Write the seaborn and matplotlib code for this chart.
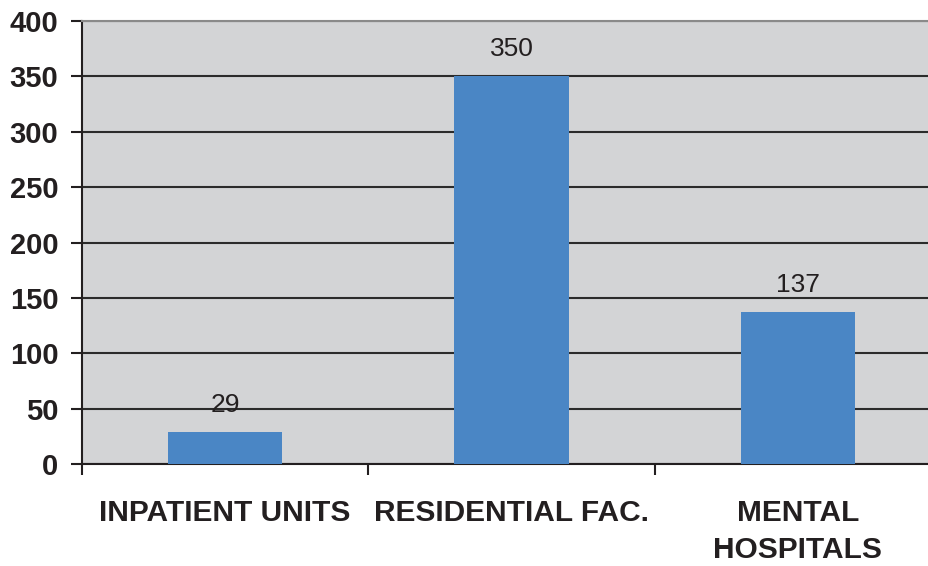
import matplotlib
matplotlib.use("Agg")
import matplotlib.pyplot as plt
import seaborn as sns
import pandas as pd

categories = ["INPATIENT UNITS", "RESIDENTIAL FAC.", "MENTAL\nHOSPITALS"]
values = [29, 350, 137]
yticks = [0, 50, 100, 150, 200, 250, 300, 350, 400]

sns.set_style("white")
plt.rcParams['font.family'] = ['Liberation Sans', 'DejaVu Sans']

df = pd.DataFrame({"cat": categories, "val": values})

fig = plt.figure(figsize=(9.29, 5.66), dpi=100)
ax = fig.add_axes([82/929, 102/566, 859/929, 443/566])
ax.set_facecolor("#d3d4d6")
sns.barplot(data=df, x="cat", y="val", color="#4a86c5", width=0.4,
            saturation=1, linewidth=0, edgecolor="none", ax=ax, zorder=3)

ax.set_ylim(0, 400)
ax.set_xlim(-0.5, 2.5)
ax.set_yticks(yticks)
ax.set_yticklabels([str(t) for t in yticks], fontsize=21, fontweight="bold", color="#231f20")
ax.yaxis.grid(True, color="#2b2b2b", linewidth=1.5, zorder=1)
ax.set_axisbelow(True)
ax.tick_params(axis="y", direction="out", length=8, width=1.5, color="#231f20", pad=9, left=True)

ax.set_xticks([0, 1, 2])
ax.set_xticklabels(categories, fontsize=21.5, fontweight="bold", color="#231f20", linespacing=1.42)
ax.tick_params(axis="x", which="major", length=0, pad=25)
ax.set_xticks([-0.5, 0.5, 1.5, 2.5], minor=True)
ax.tick_params(axis="x", which="minor", direction="out", length=8, width=1.5, color="#231f20", bottom=True)
for lab in ax.get_xticklabels():
    lab.set_verticalalignment("top")

ax.set_xlabel("")
ax.set_ylabel("")

for s in ["left", "bottom"]:
    ax.spines[s].set_color("#231f20")
    ax.spines[s].set_linewidth(1.5)
ax.spines["top"].set_color("#8a8a8a")
ax.spines["top"].set_linewidth(1.5)
ax.spines["right"].set_visible(False)

for i, v in enumerate(values):
    ax.annotate(str(v), xy=(i, v), xytext=(0, 11), textcoords="offset points",
                ha="center", va="bottom", fontsize=19, color="#231f20", zorder=4)

fig.savefig("out.png", dpi=100)
